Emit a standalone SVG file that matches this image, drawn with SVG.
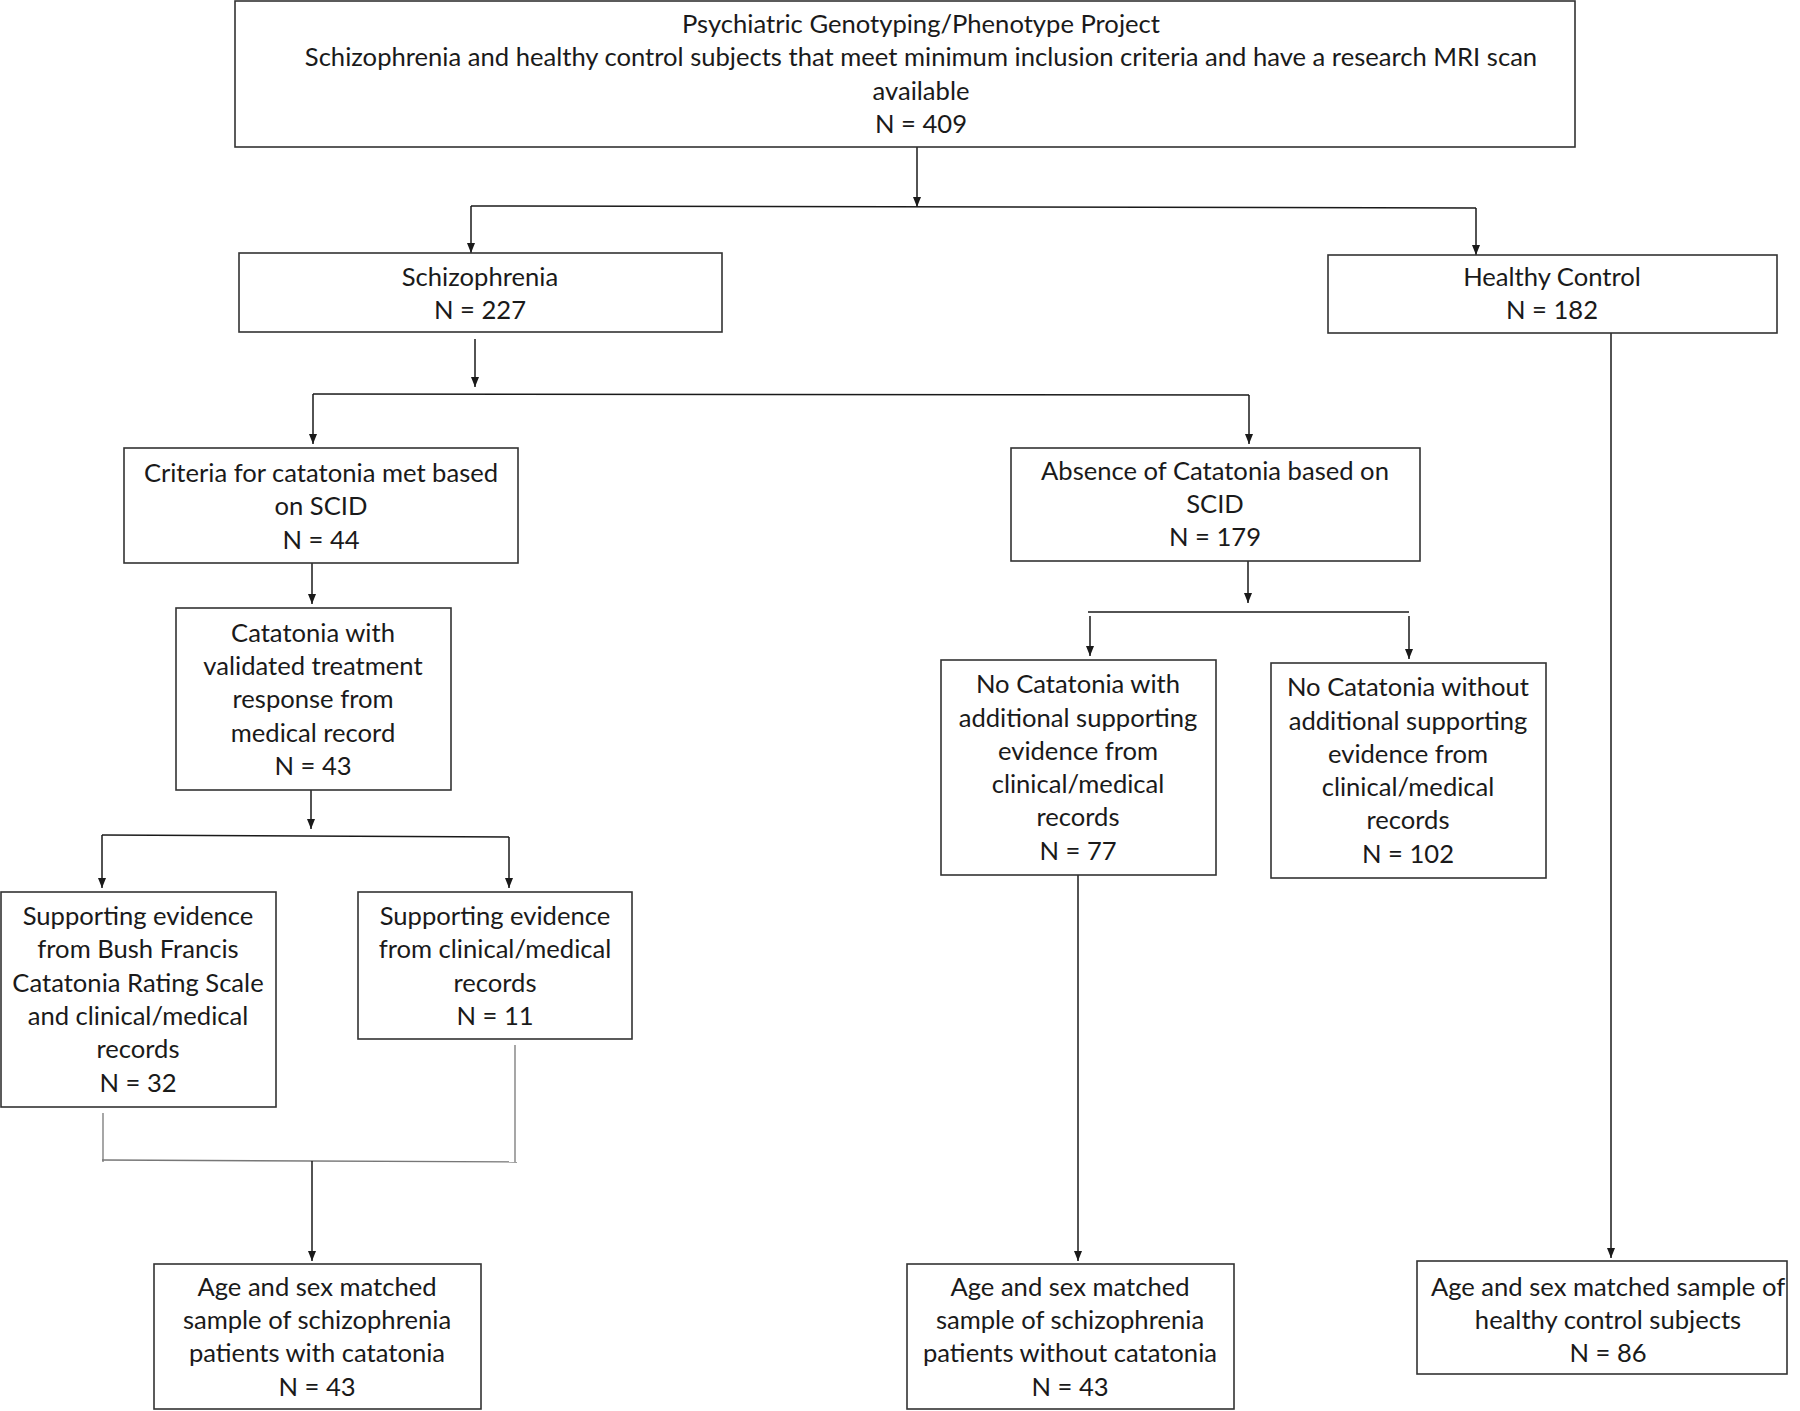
<svg xmlns="http://www.w3.org/2000/svg" width="1800" height="1411" viewBox="0 0 1800 1411">
<defs>
<marker id="ah" viewBox="0 0 10 10" refX="10" refY="5" markerWidth="10" markerHeight="10" markerUnits="userSpaceOnUse" orient="auto">
<path d="M0,1 L10,5 L0,9 Z" fill="#1a1a1a"/>
</marker>
<style>
.box{fill:#fff;stroke:#333;stroke-width:1.6}
.t{font-family:Lato,"Open Sans",sans-serif;font-size:25.6px;fill:#1a1a1a;text-anchor:middle}
.c{fill:none;stroke:#1a1a1a;stroke-width:1.5}
.g{fill:none;stroke:#777;stroke-width:1.3}
.a{fill:none;stroke:#1a1a1a;stroke-width:1.5;marker-end:url(#ah)}
</style>
</defs>
<rect width="1800" height="1411" fill="#fff"/>
<g id="connectors">
<path class="a" d="M917,147 V207"/>
<path class="c" d="M471,206 L1476,208"/>
<path class="a" d="M471,206 V253"/>
<path class="a" d="M1476,208 V255"/>
<path class="a" d="M475,339 V387"/>
<path class="c" d="M313,394 L1249,395"/>
<path class="a" d="M313,394 V444"/>
<path class="a" d="M1249,395 V444"/>
<path class="a" d="M312,563 V604"/>
<path class="a" d="M311,790 V829"/>
<path class="c" d="M102,835 L509,837"/>
<path class="a" d="M102,835 V888"/>
<path class="a" d="M509,837 V888"/>
<path class="g" d="M103,1113 V1162"/>
<path class="g" d="M515,1045 V1162"/>
<path class="g" d="M102,1160 L517,1162"/>
<path class="a" d="M312,1161 V1261"/>
<path class="a" d="M1248,561 V603"/>
<path class="c" d="M1088,612 L1409,612"/>
<path class="a" d="M1090,616 V656"/>
<path class="a" d="M1409,616 V659"/>
<path class="a" d="M1078,875 V1261"/>
<path class="a" d="M1611,333 V1258"/>
</g>
<g id="n-top">
<rect class="box" x="235" y="1" width="1340" height="146"/>
<text class="t" x="921" y="33">Psychiatric Genotyping/Phenotype Project</text>
<text class="t" x="921" y="66">Schizophrenia and healthy control subjects that meet minimum inclusion criteria and have a research MRI scan</text>
<text class="t" x="921" y="100">available</text>
<text class="t" x="921" y="133">N = 409</text>
</g>
<g id="n-scz">
<rect class="box" x="239" y="253" width="483" height="79"/>
<text class="t" x="480" y="286">Schizophrenia</text>
<text class="t" x="480" y="319">N = 227</text>
</g>
<g id="n-hc">
<rect class="box" x="1328" y="255" width="449" height="78"/>
<text class="t" x="1552" y="286">Healthy Control</text>
<text class="t" x="1552" y="319">N = 182</text>
</g>
<g id="n-crit">
<rect class="box" x="124" y="448" width="394" height="115"/>
<text class="t" x="321" y="482">Criteria for catatonia met based</text>
<text class="t" x="321" y="515">on SCID</text>
<text class="t" x="321" y="549">N = 44</text>
</g>
<g id="n-abs">
<rect class="box" x="1011" y="448" width="409" height="113"/>
<text class="t" x="1215" y="480">Absence of Catatonia based on</text>
<text class="t" x="1215" y="513">SCID</text>
<text class="t" x="1215" y="546">N = 179</text>
</g>
<g id="n-cat">
<rect class="box" x="176" y="608" width="275" height="182"/>
<text class="t" x="313" y="642">Catatonia with</text>
<text class="t" x="313" y="675">validated treatment</text>
<text class="t" x="313" y="708">response from</text>
<text class="t" x="313" y="742">medical record</text>
<text class="t" x="313" y="775">N = 43</text>
</g>
<g id="n-bf">
<rect class="box" x="1" y="892" width="275" height="215"/>
<text class="t" x="138" y="925">Supporting evidence</text>
<text class="t" x="138" y="958">from Bush Francis</text>
<text class="t" x="138" y="992">Catatonia Rating Scale</text>
<text class="t" x="138" y="1025">and clinical/medical</text>
<text class="t" x="138" y="1058">records</text>
<text class="t" x="138" y="1092">N = 32</text>
</g>
<g id="n-clin">
<rect class="box" x="358" y="892" width="274" height="147"/>
<text class="t" x="495" y="925">Supporting evidence</text>
<text class="t" x="495" y="958">from clinical/medical</text>
<text class="t" x="495" y="992">records</text>
<text class="t" x="495" y="1025">N = 11</text>
</g>
<g id="n-nowith">
<rect class="box" x="941" y="660" width="275" height="215"/>
<text class="t" x="1078" y="693">No Catatonia with</text>
<text class="t" x="1078" y="727">additional supporting</text>
<text class="t" x="1078" y="760">evidence from</text>
<text class="t" x="1078" y="793">clinical/medical</text>
<text class="t" x="1078" y="826">records</text>
<text class="t" x="1078" y="860">N = 77</text>
</g>
<g id="n-nowithout">
<rect class="box" x="1271" y="663" width="275" height="215"/>
<text class="t" x="1408" y="696">No Catatonia without</text>
<text class="t" x="1408" y="730">additional supporting</text>
<text class="t" x="1408" y="763">evidence from</text>
<text class="t" x="1408" y="796">clinical/medical</text>
<text class="t" x="1408" y="829">records</text>
<text class="t" x="1408" y="863">N = 102</text>
</g>
<g id="n-age1">
<rect class="box" x="154" y="1264" width="327" height="145"/>
<text class="t" x="317" y="1296">Age and sex matched</text>
<text class="t" x="317" y="1329">sample of schizophrenia</text>
<text class="t" x="317" y="1362">patients with catatonia</text>
<text class="t" x="317" y="1396">N = 43</text>
</g>
<g id="n-age2">
<rect class="box" x="907" y="1264" width="327" height="145"/>
<text class="t" x="1070" y="1296">Age and sex matched</text>
<text class="t" x="1070" y="1329">sample of schizophrenia</text>
<text class="t" x="1070" y="1362">patients without catatonia</text>
<text class="t" x="1070" y="1396">N = 43</text>
</g>
<g id="n-age3">
<rect class="box" x="1417" y="1261" width="370" height="113"/>
<text class="t" x="1608" y="1296">Age and sex matched sample of</text>
<text class="t" x="1608" y="1329">healthy control subjects</text>
<text class="t" x="1608" y="1362">N = 86</text>
</g>
</svg>
